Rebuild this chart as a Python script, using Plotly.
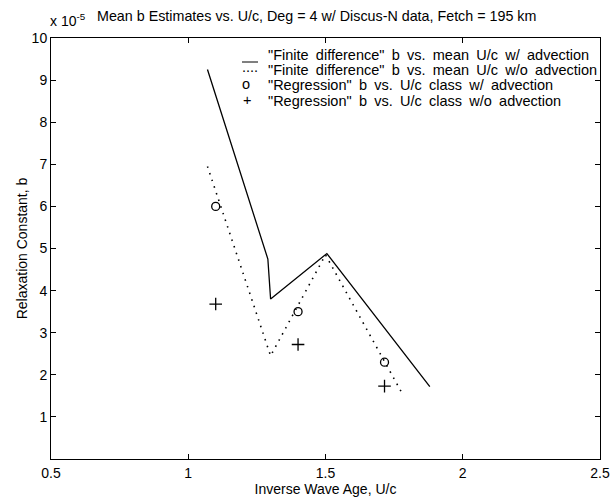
import plotly.graph_objects as go

# Relaxation constant b (in units of 1e-5) against inverse wave age U/c
fd_adv_x = [1.07, 1.29, 1.30, 1.505, 1.88]
fd_adv_b = [9.25, 4.75, 3.80, 4.88, 1.72]

fd_noadv_x = [1.07, 1.30, 1.50, 1.78]
fd_noadv_b = [6.95, 2.45, 4.85, 1.55]

reg_adv_x = [1.10, 1.40, 1.715]
reg_adv_b = [6.00, 3.50, 2.30]

reg_noadv_x = [1.10, 1.40, 1.715]
reg_noadv_b = [3.68, 2.72, 1.73]

legend_labels = [
    '"Finite difference" b vs. mean U/c w/ advection',
    '"Finite difference" b vs. mean U/c w/o advection',
    '"Regression" b vs. U/c class w/ advection',
    '"Regression" b vs. U/c class w/o advection',
]

x_ticks = [0.5, 1, 1.5, 2, 2.5]
x_tick_text = ["0.5", "1", "1.5", "2", "2.5"]
y_ticks = [1, 2, 3, 4, 5, 6, 7, 8, 9, 10]

FONT = "Liberation Sans, Arial, Helvetica, sans-serif"
W, H = 615, 498
L, R, T, B = 51, 15, 38, 39
PW, PH = W - L - R, H - T - B


def px_to_paper(px, py):
    return (px - L) / PW, (H - B - py) / PH


fig = go.Figure()
fig.add_trace(go.Scatter(x=fd_adv_x, y=fd_adv_b, mode="lines",
                         line=dict(color="black", width=1.3), showlegend=False))
fig.add_trace(go.Scatter(x=fd_noadv_x, y=fd_noadv_b, mode="lines",
                         line=dict(color="black", width=1.6, dash="1.5px,5.5px"),
                         showlegend=False))
fig.add_trace(go.Scatter(x=reg_adv_x, y=reg_adv_b, mode="markers",
                         marker=dict(symbol="circle-open", size=8, color="black",
                                     line=dict(width=1.3)), showlegend=False))
fig.add_trace(go.Scatter(x=reg_noadv_x, y=reg_noadv_b, mode="markers",
                         marker=dict(symbol="cross-thin-open", size=9, color="black",
                                     line=dict(width=1.3)), showlegend=False))

# Hand-built legend in the upper right, MATLAB style (wide word spacing)
annotations = []
shapes = []
row_y = [55, 70, 85, 100.5]
text_x = 266
for lab, yy in zip(legend_labels, row_y):
    xp, yp = px_to_paper(text_x, yy)
    annotations.append(dict(x=xp, y=yp, xref="paper", yref="paper",
                            text=lab.replace(" ", "\u2002"),
                            showarrow=False, xanchor="left", yanchor="middle",
                            font=dict(family=FONT, size=14.5, color="black")))
x0, y0 = px_to_paper(242, 62)
x1, _ = px_to_paper(258, 62)
shapes.append(dict(type="line", xref="paper", yref="paper", x0=x0, x1=x1, y0=y0, y1=y0,
                   line=dict(color="black", width=1)))
for sym, yy, xx in [("....", 67, 250), ("o", 84, 245.5), ("+", 100, 246.5)]:
    xp, yp = px_to_paper(xx, yy)
    annotations.append(dict(x=xp, y=yp, xref="paper", yref="paper", text=sym,
                            showarrow=False, xanchor="center", yanchor="middle",
                            font=dict(family=FONT, size=14.5, color="black")))

# Exponent label above the y axis
ex, ey = px_to_paper(48, 20)
annotations.append(dict(x=ex, y=ey, xref="paper", yref="paper",
                        text="x 10<sup>-5</sup>", showarrow=False, xanchor="left",
                        yanchor="middle", font=dict(family=FONT, size=14, color="black")))

axis_common = dict(showgrid=False, zeroline=False, showline=True, linecolor="black",
                   linewidth=1, mirror="ticks", ticks="inside", ticklen=5,
                   tickcolor="black", tickwidth=1, automargin=False,
                   tickfont=dict(family=FONT, size=14, color="black"))

fig.update_layout(
    width=W, height=H,
    margin=dict(l=L, r=R, t=T, b=B),
    paper_bgcolor="white", plot_bgcolor="white",
    title=dict(text="Mean b Estimates vs. U/c, Deg = 4 w/ Discus-N data, Fetch = 195 km",
               x=97 / W, xanchor="left", xref="container",
               y=1 - 16 / H, yanchor="middle", yref="container",
               font=dict(family=FONT, size=14.3, color="black")),
    xaxis=dict(range=[0.5, 2.5], tickvals=x_ticks, ticktext=x_tick_text,
               ticklabelstandoff=1,
               title=dict(text="Inverse Wave Age, U/c", standoff=0,
                          font=dict(family=FONT, size=14, color="black")),
               **axis_common),
    yaxis=dict(range=[0, 10], tickvals=y_ticks,
               title=dict(text="Relaxation Constant, b", standoff=0,
                          font=dict(family=FONT, size=14, color="black")),
               **axis_common),
    annotations=annotations,
    shapes=shapes,
    showlegend=False,
)

fig.write_html("out.html")
